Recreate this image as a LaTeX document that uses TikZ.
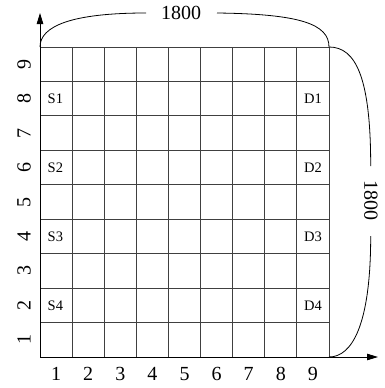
\documentclass[tikz,border=0pt]{standalone}
\usepackage{fontspec}
\setmainfont{Liberation Serif}
\usetikzlibrary{arrows.meta}
\begin{document}
\begin{tikzpicture}[x=1pt,y=-1pt,
  gridline/.style={draw=black!75,line width=0.9pt},
  axisline/.style={draw=black,line width=0.9pt,-{Triangle[length=11pt,width=6.5pt]}},
  dimline/.style={draw=black,line width=0.8pt},
  axislabel/.style={font=\fontsize{20}{20}\selectfont,inner sep=0pt},
  celllabel/.style={font=\fontsize{14.5}{14.5}\selectfont,inner sep=0pt}]
\useasboundingbox (0,0) rectangle (385,388);
% corners
\coordinate (TL) at (40,47);
\coordinate (TR) at (329,47);
\coordinate (BL) at (40,357);
\coordinate (BR) at (329,357);
\coordinate (yend) at (40,13);
\coordinate (xend) at (378,357);
% grid
\foreach \i in {0,...,9} {
  \draw[gridline] ({40+\i*32.111},47) -- ({40+\i*32.111},357);
  \draw[gridline] (40,{47+\i*34.444}) -- (329,{47+\i*34.444});
}
% axes
\draw[axisline] (BL) -- (yend);
\draw[axisline] (BL) -- (xend);
% column labels
\foreach \i in {1,...,9} {
  \node[axislabel] (c\i) at ({40+(\i-0.5)*32.111},374) {\i};
}
% row labels
\foreach \i in {1,...,9} {
  \node[axislabel,rotate=90] (r\i) at (24,{357-(\i-0.5)*34.444}) {\i};
}
% S and D labels
\foreach \k/\row in {1/8,2/6,3/4,4/2} {
  \node[celllabel,anchor=west] (S\k) at (47.5,{357-(\row-0.5)*34.444}) {S\k};
  \node[celllabel,anchor=east] (D\k) at (322,{357-(\row-0.5)*34.444}) {D\k};
}
% top dimension
\node[axislabel] (topdim) at (181,13) {1800};
\coordinate (tA) at (146,13);
\coordinate (tB) at (217,13);
\draw[dimline] (TL) .. controls (40,26) and (72,13) .. (tA);
\draw[dimline] (tB) .. controls (300,14) and (329,24) .. (TR);
% right dimension
\node[axislabel,rotate=-90] (rightdim) at (371,200) {1800};
\coordinate (rA) at (370.7,166);
\coordinate (rB) at (370.7,236);
\draw[dimline] (TR) .. controls (356,47) and (370.7,78) .. (rA);
\draw[dimline] (rB) .. controls (370.7,325) and (352,357) .. (BR);
\end{tikzpicture}
\end{document}
